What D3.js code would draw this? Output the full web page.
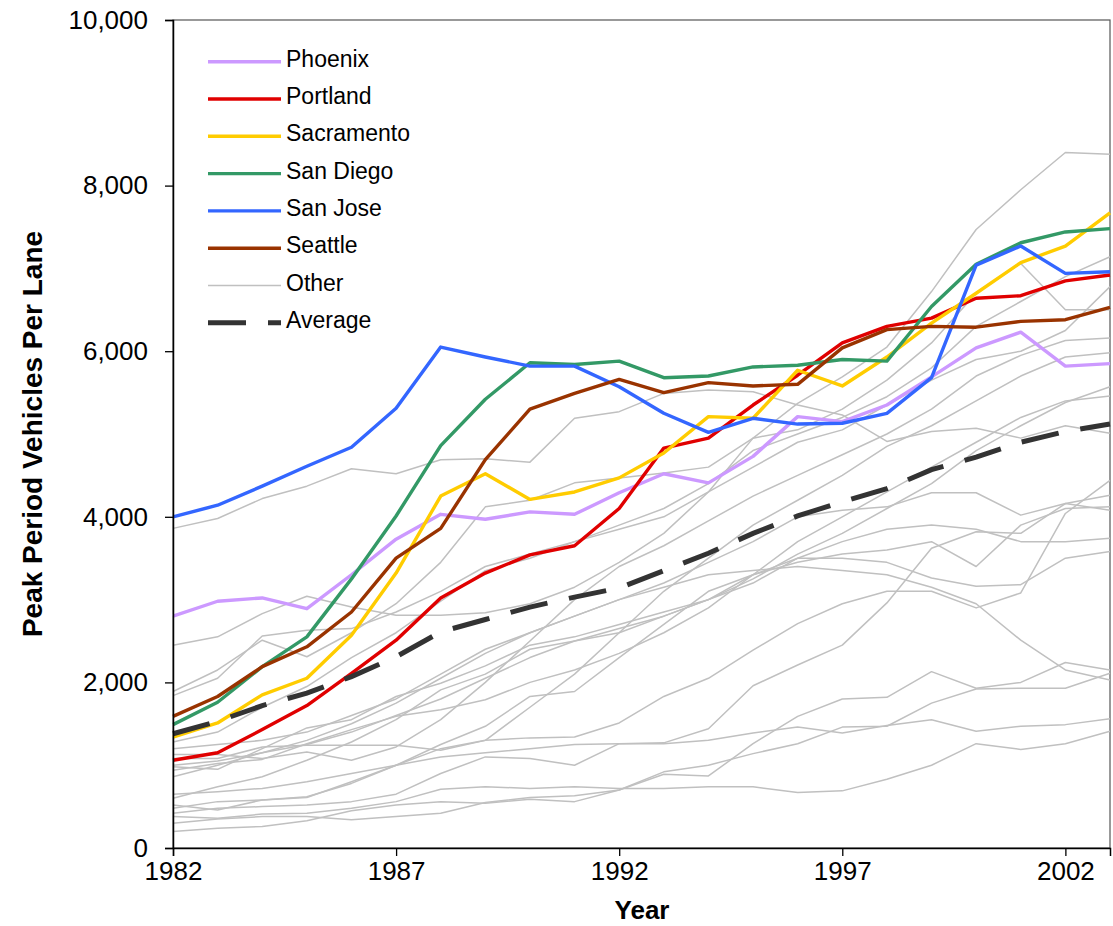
<!DOCTYPE html>
<html>
<head>
<meta charset="utf-8">
<script src="https://cdn.jsdelivr.net/npm/d3@7"></script>
<style>
  html, body { margin: 0; padding: 0; background: #fff; }
  svg { display: block; font-family: "Liberation Sans", Arial, sans-serif; }
</style>
</head>
<body>
<svg id="chart" width="1113" height="926"></svg>
<script>
// Years on the x axis
const years = d3.range(1982, 2004);

// Highlighted urban areas (peak period vehicles per lane)
const phoenix    = [2800,2980,3020,2890,3300,3730,4030,3970,4060,4030,4290,4520,4410,4730,5210,5150,5350,5690,6040,6230,5820,5850];
const portland   = [1060,1150,1430,1720,2110,2510,3020,3320,3540,3650,4100,4830,4950,5350,5710,6100,6300,6400,6640,6670,6850,6920];
const sacramento = [1340,1510,1850,2050,2570,3320,4250,4520,4210,4300,4470,4770,5210,5190,5770,5580,5930,6340,6700,7070,7270,7670];
const sanDiego   = [1490,1760,2190,2550,3250,4010,4860,5420,5860,5840,5880,5680,5700,5810,5830,5900,5880,6540,7050,7310,7440,7480];
const sanJose    = [4000,4140,4370,4610,4840,5310,6050,5930,5820,5820,5570,5250,5020,5190,5120,5130,5250,5680,7040,7270,6940,6960];
const seattle    = [1590,1830,2190,2430,2850,3500,3860,4690,5300,5490,5660,5500,5620,5580,5600,6040,6260,6300,6290,6360,6380,6530];

// Average of all areas
const average    = [1380,1530,1720,1870,2070,2310,2610,2760,2910,3030,3140,3350,3560,3800,4010,4180,4340,4570,4720,4900,5030,5120];

// Other urban areas
const other01 = [3860,3980,4220,4370,4580,4520,4690,4700,4660,5190,5270,5490,5530,5510,5350,5230,4910,5030,5070,4950,5100,5010];
const other02 = [2450,2550,2830,3040,2910,2810,2810,2840,2950,3150,3450,3800,4300,4950,5370,5690,6050,6720,7470,7950,8400,8380];
const other03 = [1890,2150,2510,2310,2600,2950,3450,4120,4200,4410,4470,4530,4600,4950,5050,5300,5650,6100,6700,7060,6500,6500];
const other04 = [1840,2050,2560,2630,2650,2850,3100,3400,3550,3700,3900,4100,4400,4800,5000,5200,5450,5800,6300,6600,6900,7140];
const other05 = [1280,1400,1700,1950,2300,2600,2980,3350,3500,3700,3850,4000,4300,4600,4900,5050,5350,5650,5900,6000,6250,6780];
const other06 = [1200,1250,1300,1400,1600,1800,2100,2400,2600,2800,3000,3150,3300,3350,3400,3350,3300,3150,2950,2510,2150,2030];
const other07 = [1130,1130,1080,1160,1060,1220,1550,2000,2500,3000,3400,3650,3950,4250,4500,4750,5000,5300,5700,5950,6130,6160];
const other08 = [1080,1080,1220,1240,1240,1240,1180,1300,1700,2100,2600,3100,3500,3900,4200,4500,4850,5100,5400,5700,5930,5980];
const other09 = [1000,1050,1150,1250,1400,1600,1800,2050,2300,2500,2650,2800,3000,3200,3500,3700,3850,3900,3850,3700,3700,3740];
const other10 = [980,950,1200,1450,1550,1830,1990,2200,2450,2550,2700,2850,3000,3250,3550,3800,4100,4400,4800,5100,5380,5570];
const other11 = [940,1020,1070,1260,1430,1590,1670,1790,2000,2150,2350,2600,2900,3300,3700,4000,4300,4600,4900,5200,5400,5460];
const other12 = [860,1000,1150,1300,1500,1750,2050,2350,2600,2800,3000,3200,3450,3700,4000,4080,4120,4290,4290,4020,4160,4080];
const other13 = [650,680,720,800,900,1000,1100,1150,1200,1250,1260,1270,1440,1960,2210,2450,2960,3620,3820,3800,4160,4260];
const other14 = [600,740,860,1060,1280,1550,1910,2100,2400,2500,2600,2800,3000,3300,3500,3500,3450,3260,3160,3180,3500,3580];
const other15 = [520,460,580,620,780,1000,1250,1470,1830,1890,2300,2700,3100,3300,3450,3550,3600,3700,3400,3900,4100,4120];
const other16 = [480,560,580,610,800,1000,1200,1300,1330,1340,1510,1830,2050,2390,2710,2950,3100,3100,2900,3080,4040,4440];
const other17 = [420,480,500,520,560,650,900,1100,1080,1000,1260,1260,1300,1390,1460,1390,1480,1550,1410,1470,1490,1560];
const other18 = [380,360,410,420,480,560,710,740,720,740,720,720,740,740,670,690,830,1000,1260,1190,1260,1410];
const other19 = [300,350,380,380,340,380,420,550,610,630,700,920,1000,1140,1260,1460,1470,1750,1920,1930,1930,2110];
const other20 = [200,240,260,330,450,520,560,540,590,560,700,890,870,1260,1590,1800,1820,2130,1930,2000,2240,2150];

const others = [other01, other02, other03, other04, other05, other06, other07, other08, other09, other10,
                other11, other12, other13, other14, other15, other16, other17, other18, other19, other20];

// Highlighted series, in legend order
const featuredNames  = ["Phoenix", "Portland", "Sacramento", "San Diego", "San Jose", "Seattle"];
const featuredValues = [phoenix, portland, sacramento, sanDiego, sanJose, seattle];
const featuredColors = ["#cc99ff", "#e00000", "#ffcc00", "#339966", "#3366ff", "#993300"];

// Axis ticks
const xTickYears = [1982, 1987, 1992, 1997, 2002];
const yTickValues = [0, 2000, 4000, 6000, 8000, 10000];

const margin = { left: 173, right: 3, top: 20, bottom: 78 };
const width = 1113, height = 926;
const svg = d3.select("#chart");

const x = d3.scaleLinear().domain([1982, 2003]).range([margin.left, width - margin.right]);
const y = d3.scaleLinear().domain([0, 10000]).range([height - margin.bottom, margin.top]);

const line = d3.line().x((d, i) => x(years[i])).y(d => y(d));

// Plot frame
svg.append("rect")
  .attr("x", x(1982)).attr("y", y(10000))
  .attr("width", x(2003) - x(1982)).attr("height", y(0) - y(10000))
  .attr("fill", "none").attr("stroke", "#555").attr("stroke-width", 1.2);

// Other areas
svg.append("g").selectAll("path").data(others).join("path")
  .attr("d", line)
  .attr("fill", "none")
  .attr("stroke", "#c0c0c0")
  .attr("stroke-width", 1.5)
  .attr("stroke-linejoin", "round");

// Highlighted areas
svg.append("g").selectAll("path").data(featuredValues).join("path")
  .attr("d", line)
  .attr("fill", "none")
  .attr("stroke", (d, i) => featuredColors[i])
  .attr("stroke-width", 3.4)
  .attr("stroke-linejoin", "round");

// Average
svg.append("path")
  .attr("d", line(average))
  .attr("fill", "none")
  .attr("stroke", "#333")
  .attr("stroke-width", 5)
  .attr("stroke-dasharray", "38,22");

// Axes
const yAxis = d3.axisLeft(y).tickValues(yTickValues).tickFormat(d3.format(",")).tickSize(8).tickPadding(17);
const gy = svg.append("g").attr("transform", `translate(${x(1982)},0)`).call(yAxis);
const xAxis = d3.axisBottom(x).tickValues(xTickYears).tickFormat(d3.format("d")).tickSize(8).tickPadding(6);
const gx = svg.append("g").attr("transform", `translate(0,${y(0)})`).call(xAxis);
[gx, gy].forEach(g => {
  g.select(".domain").attr("stroke", "#000").attr("stroke-width", 1.5);
  g.selectAll(".tick line").attr("stroke", "#000").attr("stroke-width", 1.3);
  g.selectAll(".tick text").attr("fill", "#000").style("font-size", "26px")
    .style("font-family", "'Liberation Sans', Arial, sans-serif");
});

// Axis titles
svg.append("text")
  .attr("x", 642).attr("y", 919)
  .attr("text-anchor", "middle")
  .style("font-size", "26px").style("font-weight", "bold")
  .text("Year");
svg.append("text")
  .attr("transform", "translate(42,434) rotate(-90)")
  .attr("text-anchor", "middle")
  .style("font-size", "28px").style("font-weight", "bold")
  .text("Peak Period Vehicles Per Lane");

// Legend
const legendNames = featuredNames.concat(["Other", "Average"]);
const legendColors = featuredColors.concat(["#c0c0c0", "#333"]);
const legend = svg.append("g");
legendNames.forEach((name, i) => {
  const ly = 61.7 + i * 37.3;
  const ln = legend.append("line")
    .attr("x1", 208).attr("x2", 281).attr("y1", ly).attr("y2", ly)
    .attr("stroke", legendColors[i]);
  if (name === "Other") {
    ln.attr("stroke-width", 1.5);
  } else if (name === "Average") {
    ln.attr("stroke-width", 5).attr("stroke-dasharray", "38,22");
  } else {
    ln.attr("stroke-width", 3.4);
  }
  legend.append("text")
    .attr("x", 286).attr("y", ly + 5)
    .style("font-size", "23px")
    .text(name);
});
</script>
</body>
</html>
